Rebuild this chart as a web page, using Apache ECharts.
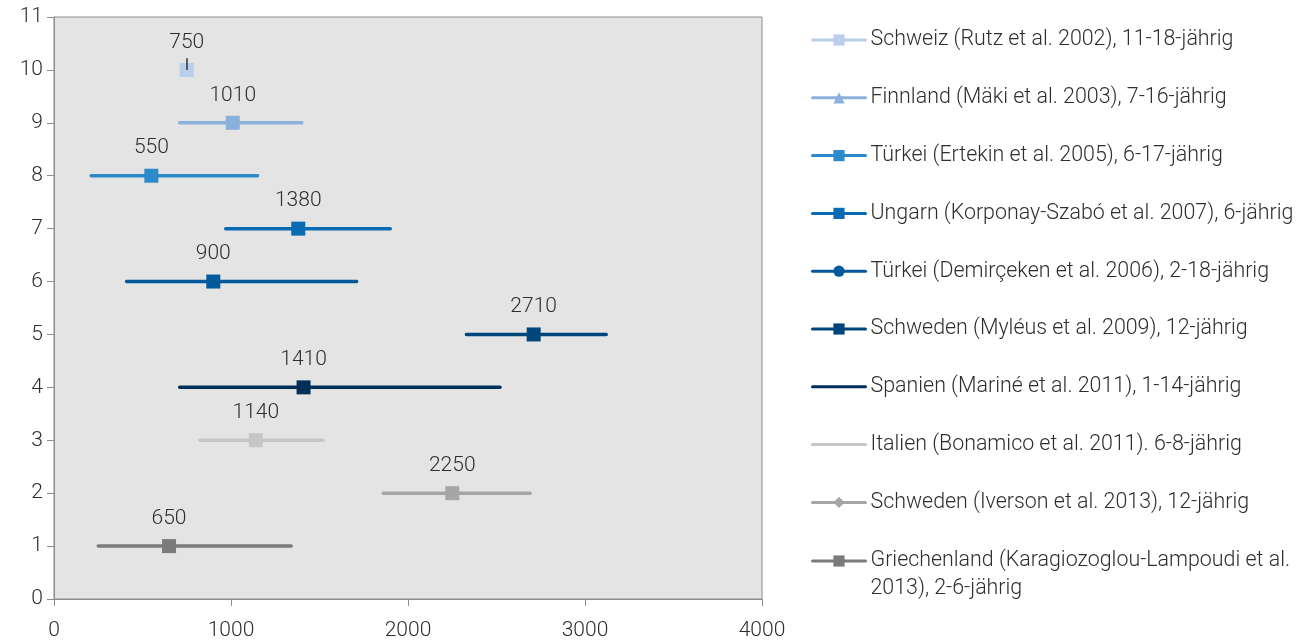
<!DOCTYPE html>
<html>
<head>
<meta charset="utf-8">
<script src="https://cdn.jsdelivr.net/npm/echarts@6/dist/echarts.min.js"></script>
<style>
  html, body { margin: 0; padding: 0; background: #ffffff; }
  #chart { width: 1304px; height: 641px; }
</style>
</head>
<body>
<div id="chart"></div>
<script>
// Studies, one per row (top to bottom)
const studies = [
  'Schweiz (Rutz et al. 2002), 11-18-jährig',
  'Finnland (Mäki et al. 2003), 7-16-jährig',
  'Türkei (Ertekin et al. 2005), 6-17-jährig',
  'Ungarn (Korponay-Szabó et al. 2007), 6-jährig',
  'Türkei (Demirçeken et al. 2006), 2-18-jährig',
  'Schweden (Myléus et al. 2009), 12-jährig',
  'Spanien (Mariné et al. 2011), 1-14-jährig',
  'Italien (Bonamico et al. 2011). 6-8-jährig',
  'Schweden (Iverson et al. 2013), 12-jährig',
  'Griechenland (Karagiozoglou-Lampoudi et al. 2013), 2-6-jährig'
];
const rows   = [10, 9, 8, 7, 6, 5, 4, 3, 2, 1];
const means  = [750, 1010, 550, 1380, 900, 2710, 1410, 1140, 2250, 650];
const lows   = [750, 710, 210, 970, 410, 2330, 710, 825, 1860, 250];
const highs  = [750, 1400, 1150, 1900, 1710, 3120, 2520, 1520, 2690, 1340];
const xTicks = [0, 1000, 2000, 3000, 4000];
const yTicks = [0, 1, 2, 3, 4, 5, 6, 7, 8, 9, 10, 11];

const colors = ['#b7cfeb', '#8cb0dc', '#2c8acb', '#0a6bb3', '#005a9b',
                '#00467a', '#00305a', '#c6c6c6', '#a6a6a6', '#7b7b7b'];
const legendSymbols = ['rect', 'triangle', 'rect', 'rect', 'circle',
                       'rect', 'none', 'none', 'diamond', 'rect'];

const FONT = 'Roboto';
const WEIGHT = 300;
const TEXT = '#2e2e2e';
const FS = 21;

const series = studies.map((name, i) => {
  const s = {
    name: name,
    type: 'line',
    symbol: legendSymbols[i],
    symbolSize: 14,
    color: colors[i],
    lineStyle: { width: 3.5, cap: 'round', color: colors[i] },
    itemStyle: { color: colors[i] },
    emphasis: { disabled: true },
    animation: false,
    z: 3,
    data: [
      { value: [lows[i], rows[i]], symbol: 'none' },
      {
        value: [means[i], rows[i]],
        symbol: 'rect',
        symbolSize: 14,
        label: {
          show: true,
          position: 'top',
          distance: 10,
          color: TEXT,
          fontFamily: FONT,
          fontWeight: WEIGHT,
          fontSize: FS,
          formatter: p => String(p.value[0])
        }
      },
      { value: [highs[i], rows[i]], symbol: 'none' }
    ]
  };
  if (i === 0) {
    // short vertical error tick above the Swiss estimate
    s.markLine = {
      silent: true,
      symbol: ['none', 'none'],
      label: { show: false },
      lineStyle: { color: '#333333', width: 1.5, type: 'solid' },
      data: [[
        { coord: [means[i], rows[i]] },
        { coord: [means[i], rows[i] + 0.22] }
      ]]
    };
  }
  return s;
});

const legendItem = (name, i) => {
  const item = { name: name };
  if (legendSymbols[i] === 'none') {
    item.itemStyle = { color: 'rgba(0,0,0,0)', borderWidth: 0 };
  }
  return item;
};

const legendBase = {
  orient: 'vertical',
  left: 811,
  padding: 0,
  itemWidth: 53,
  itemHeight: 14,
  itemGap: 29.8,
  selectedMode: false,
  lineStyle: { width: 3 },
  textStyle: { color: TEXT, fontFamily: FONT, fontWeight: WEIGHT, fontSize: 21.4, lineHeight: 28 }
};

const last = studies.length - 1;

const chart = echarts.init(document.getElementById('chart'), null, { renderer: 'canvas' });
chart.setOption({
  animation: false,
  backgroundColor: '#ffffff',
  textStyle: { fontFamily: FONT },
  grid: {
    left: 54, right: 542, top: 17, bottom: 42,
    show: true,
    backgroundColor: '#e4e4e4',
    borderColor: '#8c8c8c',
    borderWidth: 1
  },
  xAxis: {
    type: 'value',
    min: xTicks[0],
    max: xTicks[xTicks.length - 1],
    interval: 1000,
    splitLine: { show: false },
    axisLine: { show: true, lineStyle: { color: '#8c8c8c', width: 1 } },
    axisTick: { show: true, length: 7, lineStyle: { color: '#8c8c8c' } },
    axisLabel: { color: TEXT, fontFamily: FONT, fontWeight: WEIGHT, fontSize: FS, margin: 21,
                 formatter: v => String(v) }
  },
  yAxis: {
    type: 'value',
    min: yTicks[0],
    max: yTicks[yTicks.length - 1],
    interval: 1,
    splitLine: { show: false },
    axisLine: { show: true, lineStyle: { color: '#8c8c8c', width: 1 } },
    axisTick: { show: true, length: 7, lineStyle: { color: '#8c8c8c' } },
    axisLabel: { color: TEXT, fontFamily: FONT, fontWeight: WEIGHT, fontSize: FS, margin: 11 }
  },
  legend: [
    Object.assign({}, legendBase, {
      top: 26,
      data: studies.slice(0, last).map(legendItem)
    }),
    // two-line entry: a leading blank line keeps the first text line level with its icon
    Object.assign({}, legendBase, {
      top: 519,
      formatter: name => '\n' + name,
      textStyle: Object.assign({}, legendBase.textStyle, { width: 430, overflow: 'break' }),
      data: [legendItem(studies[last], last)]
    })
  ],
  series: series
});
</script>
</body>
</html>
